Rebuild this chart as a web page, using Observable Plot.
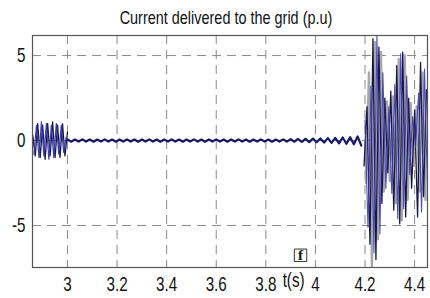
<!DOCTYPE html>
<html><head><meta charset="utf-8">
<script src="https://cdn.jsdelivr.net/npm/d3@7"></script>
<script src="https://cdn.jsdelivr.net/npm/@observablehq/plot@0.6"></script>
<style>
body{margin:0;background:#fff;width:430px;height:298px;overflow:hidden;}
#title{height:24px;position:relative;}
#title span{position:absolute;left:226px;top:8px;transform:translateX(-50%) scaleX(0.76);font-family:"Liberation Sans",Arial,sans-serif;font-size:19px;line-height:19px;color:#111;white-space:nowrap;}
</style></head><body>
<div id="title"><span>Current delivered to the grid (p.u)</span></div>
<div id="chart"></div>
<script>
// ---- data ----
const xTicks = [3, 3.2, 3.4, 3.6, 3.8, 4, 4.2, 4.4];
const yTicks = [-5, 0, 5];
const xDomain = [2.859, 4.452];
const yDomain = [-7.47, 6.18];

// pre-fault burst (t = 2.86 .. 3.0)
const leftNavyStart = 2.860, leftNavyStep = 0.010;
const leftNavy = [0.3,-0.9,1.0,-1.0,0.9,-1.1,1.0,-0.9,1.1,-1.0,0.9,-1.0,1.0,-0.9,0.5];
const leftBlueStart = 2.865, leftBlueStep = 0.010;
const leftBlue = [-0.8,0.9,-1.0,1.1,-0.9,1.0,-1.1,0.9,-1.0,1.0,-0.8,0.9,-0.7,0.2];

// small ripple (t = 3.0 .. 4.19)
const rippleStart = 3.000, rippleStep = 0.015;
const ripple = [0.06,-0.07,0.06,-0.06,0.07,-0.06,0.06,-0.07,0.06,-0.06,
 0.07,-0.06,0.06,-0.07,0.06,-0.06,0.07,-0.06,0.06,-0.07,
 0.06,-0.06,0.07,-0.06,0.06,-0.07,0.06,-0.06,0.07,-0.06,
 0.06,-0.07,0.06,-0.06,0.07,-0.06,0.06,-0.07,0.06,-0.06,
 0.07,-0.06,0.06,-0.07,0.06,-0.06,0.07,-0.06,0.06,-0.07,
 0.06,-0.06,0.07,-0.06,0.06,-0.07,0.06,-0.06,0.07,-0.06,
 0.08,-0.07,0.09,-0.08,0.10,-0.09,0.11,-0.10,0.12,-0.12,
 0.14,-0.14,0.16,-0.17,0.18,-0.19,0.20,-0.22,0.24,-0.30];

// large oscillation after t = 4.2
const navyStart = 4.196, navyStep = 0.012;
const navy = [-1.5,2.0,-6.1,6.0,-7.0,5.5,-3.7,2.5,-1.9,2.9,-4.1,4.4,-4.9,5.2,-4.5,2.5,-2.8,1.8,-4.5,4.6,-3.3,3.0];
const blueStart = 4.200, blueStep = 0.012;
const blue = [1.2,-5.1,3.2,-6.6,6.2,-5.5,4.0,-2.8,2.0,-3.1,3.3,-4.6,5.1,-4.0,3.8,-2.0,1.4,-0.4,2.8,-4.2,4.2,-3.0];
const grayStart = 4.204, grayStep = 0.012;
const gray = [-2.5,4.0,-7.4,5.8,-5.8,5.2,-3.0,2.3,-2.4,2.6,-3.7,4.8,-4.7,5.0,-3.5,2.2,-1.5,2.0,-3.0,4.0,-3.5];

const axisLabel = "t(s)", axisLabelAt = 3.912;
const panelTag = "f", panelTagAt = [3.94, -6.75];

// ---- build ----
const series = (start, step, vals) => vals.map((v, i) => ({t: start + i * step, v}));
const font = '"Liberation Sans",Arial,sans-serif';

const chart = Plot.plot({
  width: 430, height: 274,
  marginTop: 11, marginBottom: 31, marginLeft: 32, marginRight: 3,
  style: {fontFamily: font, fontSize: "20px", background: "#fff", color: "#111"},
  x: {domain: xDomain, ticks: xTicks, label: null},
  y: {domain: yDomain, ticks: yTicks, label: null},
  marks: [
    Plot.gridX(xTicks, {stroke: "#8a8a8a", strokeOpacity: 1, strokeDasharray: "9,6"}),
    Plot.gridY(yTicks, {stroke: "#8a8a8a", strokeOpacity: 1, strokeDasharray: "9,6"}),
    Plot.axisX(xTicks, {tickSize: 0, tickPadding: 9, tickFormat: d => String(+d.toFixed(1)), fontSize: 20}),
    Plot.axisY(yTicks, {tickSize: 0, tickPadding: 7, tickFormat: d => String(d), fontSize: 20}),
    Plot.line(series(grayStart, grayStep, gray), {x: "t", y: "v", stroke: "#a8a8a8", strokeWidth: 2.4, clip: true}),
    Plot.line(series(rippleStart, rippleStep, ripple), {x: "t", y: "v", stroke: "#16166a", strokeWidth: 2.2, clip: true}),
    Plot.line(series(leftNavyStart, leftNavyStep, leftNavy), {x: "t", y: "v", stroke: "#1a1a40", strokeWidth: 1.3, clip: true}),
    Plot.line(series(leftBlueStart, leftBlueStep, leftBlue), {x: "t", y: "v", stroke: "#3a3ab8", strokeWidth: 1.2, clip: true}),
    Plot.line(series(navyStart, navyStep, navy), {x: "t", y: "v", stroke: "#1a1a40", strokeWidth: 1.3, clip: true}),
    Plot.line(series(blueStart, blueStep, blue), {x: "t", y: "v", stroke: "#3a3ab8", strokeWidth: 1.1, strokeOpacity: 0.9, clip: true}),
    Plot.frame({stroke: "#555", strokeWidth: 1.2}),
    Plot.text([axisLabel], {x: () => axisLabelAt, frameAnchor: "bottom", dy: 19, text: d => d, fontSize: 20}),
    Plot.dot([panelTagAt], {x: d => d[0], y: d => d[1], symbol: "square", r: 7, fill: "#fff", stroke: "#333", strokeWidth: 1}),
    Plot.text([panelTag], {x: () => panelTagAt[0], y: () => panelTagAt[1], text: d => d, fontSize: 15, fontWeight: "bold", fontFamily: "Liberation Serif, serif", className: "tag"})
  ]
});
// condense the tick and label text like a narrow font
chart.querySelectorAll("text").forEach(t => {
  if (t.closest(".tag")) return;
  const x = +(t.getAttribute("x") || 0);
  const tr = t.getAttribute("transform") || "";
  t.setAttribute("transform", `${tr} translate(${x},0) scale(0.76,1) translate(${-x},0)`);
});
document.getElementById("chart").appendChild(chart);
</script>
</body></html>
